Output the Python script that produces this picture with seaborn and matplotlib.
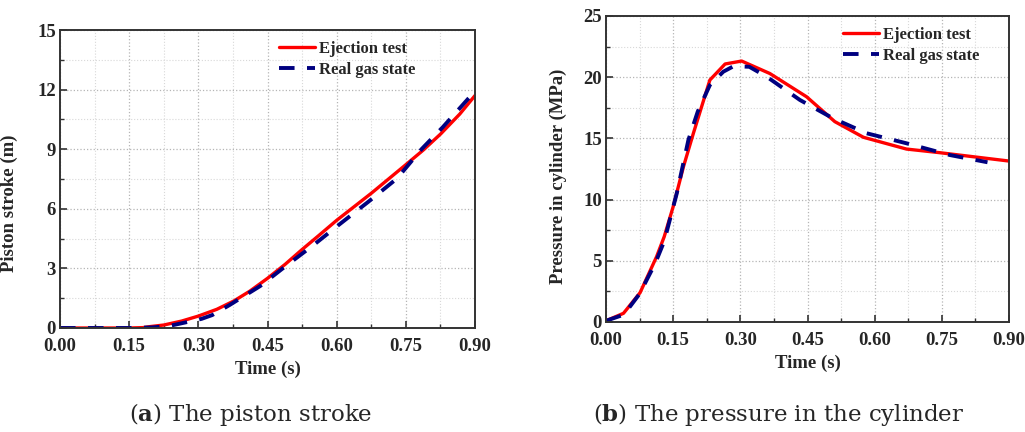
import numpy as np
import pandas as pd
import matplotlib
matplotlib.use("Agg")
import matplotlib.pyplot as plt
from matplotlib.ticker import MultipleLocator, FormatStrFormatter
import seaborn as sns

# ---- data: piston stroke ----
t_stroke_test = [0.00, 0.15, 0.18, 0.195, 0.225, 0.264, 0.30, 0.34, 0.377, 0.412, 0.45, 0.488,
                 0.525, 0.5625, 0.60, 0.6375, 0.675, 0.7125, 0.75, 0.7875, 0.8256, 0.867, 0.90]
s_stroke_test = [0.00, 0.00, 0.02, 0.07, 0.15, 0.35, 0.60, 0.94, 1.36, 1.86, 2.50, 3.20,
                 3.95, 4.68, 5.42, 6.10, 6.78, 7.50, 8.22, 8.95, 9.77, 10.77, 11.70]
t_stroke_real = [0.00, 0.15, 0.20, 0.236, 0.264, 0.307, 0.33, 0.368, 0.434, 0.488, 0.55, 0.604,
                 0.669, 0.731, 0.784, 0.831, 0.886, 0.896]
s_stroke_real = [0.00, 0.00, 0.03, 0.10, 0.24, 0.46, 0.65, 1.16, 2.11, 3.09, 4.18, 5.18,
                 6.36, 7.53, 9.00, 10.13, 11.56, 11.81]

# ---- data: pressure in cylinder ----
t_press_test = [0.000, 0.039, 0.076, 0.113, 0.130, 0.150, 0.173, 0.195, 0.232, 0.266, 0.303, 0.366, 0.448, 0.511, 0.575, 0.671, 0.746, 0.900]
p_press_test = [0.10, 0.71, 2.39, 5.34, 6.97, 9.42, 12.69, 15.40, 19.77, 21.08, 21.32, 20.30, 18.40, 16.37, 15.09, 14.13, 13.83, 13.15]
t_press_real = [0.000, 0.040, 0.075, 0.110, 0.130, 0.158, 0.184, 0.205, 0.232, 0.262, 0.285, 0.320, 0.359, 0.433, 0.507, 0.582, 0.671, 0.768, 0.852]
p_press_real = [0.10, 0.60, 2.30, 4.80, 6.60, 10.50, 14.87, 17.20, 19.36, 20.45, 20.90, 20.85, 20.04, 18.14, 16.64, 15.42, 14.60, 13.64, 13.05]

labels = ["Ejection test", "Real gas state"]
colors = ["#ff0000", "#000080"]

sns.set_theme(style="white")
plt.rcParams['font.family'] = ['Liberation Serif', 'DejaVu Serif']
plt.rcParams['font.weight'] = 'bold'
plt.rcParams['axes.labelweight'] = 'bold'
plt.rcParams['mathtext.fontset'] = 'custom'
plt.rcParams['mathtext.rm'] = 'DejaVu Serif'
plt.rcParams['mathtext.bf'] = 'DejaVu Serif:bold'

fig = plt.figure(figsize=(10.25, 4.32), dpi=100)
ax1 = fig.add_axes([60/1025, 1 - 328/432, 415/1025, 298/432])
ax2 = fig.add_axes([606/1025, 1 - 322/432, 403/1025, 306/432])


def draw(ax, t1, y1, t2, y2):
    sns.lineplot(x=t1, y=y1, color=colors[0], lw=2.4, label=labels[0], ax=ax, sort=False)
    sns.lineplot(x=t2, y=y2, color=colors[1], lw=2.8, label=labels[1], ax=ax, sort=False)
    ax.lines[-1].set_linestyle((0, (4.0, 3.2)))


draw(ax1, t_stroke_test, s_stroke_test, t_stroke_real, s_stroke_real)
draw(ax2, t_press_test, p_press_test, t_press_real, p_press_real)

for ax, ymax, ymaj, ylabel in [(ax1, 15, 3, "Piston stroke (m)"),
                               (ax2, 25, 5, "Pressure in cylinder (MPa)")]:
    ax.set_xlim(0, 0.9)
    ax.set_ylim(0, ymax)
    ax.xaxis.set_major_locator(MultipleLocator(0.15))
    ax.xaxis.set_minor_locator(MultipleLocator(0.075))
    ax.yaxis.set_major_locator(MultipleLocator(ymaj))
    ax.yaxis.set_minor_locator(MultipleLocator(ymaj / 2))
    ax.xaxis.set_major_formatter(FormatStrFormatter('%.2f'))
    ax.grid(True, which='major', color='#b5b5b5', linestyle=':', linewidth=0.9)
    ax.grid(True, which='minor', color='#d8d8d8', linestyle=':', linewidth=0.8)
    ax.set_axisbelow(True)
    for sp in ax.spines.values():
        sp.set_visible(True)
        sp.set_color('#333333')
        sp.set_linewidth(1.4)
    ax.tick_params(which='major', direction='in', length=5, width=1.2, color='#333333',
                   labelsize=13.5, bottom=True, left=True, top=False, right=False)
    ax.tick_params(axis='x', which='major', pad=7)
    ax.tick_params(axis='y', which='major', pad=3)
    ax.tick_params(which='minor', direction='in', length=3, width=1.0, color='#333333',
                   bottom=True, left=True, top=False, right=False)
    for lab in ax.get_xticklabels() + ax.get_yticklabels():
        lab.set_fontweight('bold')
    ax.set_xlabel("Time (s)", fontsize=13.5, fontweight='bold', labelpad=4)
    ax.set_ylabel(ylabel, fontsize=13.5, fontweight='bold')

ax1.yaxis.set_label_coords(-42/415, 0.42)
ax2.yaxis.set_label_coords(-39/403, 0.477)

leg_kw = dict(frameon=False, prop={'family': 'Liberation Serif', 'weight': 'bold', 'size': 12},
              handlelength=2.2, handletextpad=0.2, labelspacing=0.3, borderaxespad=0.0)
ax1.legend(loc='upper left', bbox_to_anchor=(212/415, 0.985), **leg_kw)
ax2.legend(loc='upper left', bbox_to_anchor=(230/403, 0.985), **leg_kw)

cap_font = dict(family='DejaVu Serif', size=16.5, ha='center', va='center', fontweight='normal')
fig.text(251/1025, 1 - 415/432, r"($\mathbf{a}$) The piston stroke", **cap_font)
fig.text(779/1025, 1 - 415/432, r"($\mathbf{b}$) The pressure in the cylinder", **cap_font)

fig.savefig("out.png", dpi=100)
